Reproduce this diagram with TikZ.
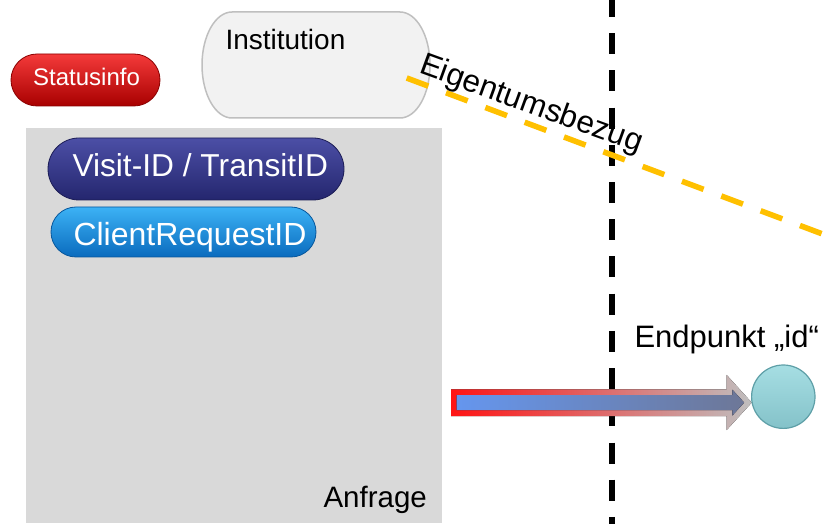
\documentclass[tikz,border=0pt]{standalone}
\usepackage{fontspec}
\setmainfont{Liberation Sans}
\usetikzlibrary{shapes.misc}
\definecolor{areagray}{HTML}{D9D9D9}
\definecolor{instfill}{HTML}{F2F2F2}
\definecolor{instline}{HTML}{BFBFBF}
\definecolor{redtop}{HTML}{F43A3A}
\definecolor{redmid}{HTML}{D60000}
\definecolor{redbot}{HTML}{A80000}
\definecolor{redline}{HTML}{8A0000}
\definecolor{navytop}{HTML}{4C4FA6}
\definecolor{navymid}{HTML}{2E3088}
\definecolor{navybot}{HTML}{24266E}
\definecolor{navyline}{HTML}{1B1C55}
\definecolor{bluetop}{HTML}{3CB2F5}
\definecolor{bluemid}{HTML}{0D86D8}
\definecolor{bluebot}{HTML}{0A6BBE}
\definecolor{blueline}{HTML}{08579C}
\definecolor{orangeline}{HTML}{FFC000}
\definecolor{arrowred}{HTML}{FF1414}
\definecolor{arrowgray}{HTML}{BFBFBF}
\definecolor{arrowblueL}{HTML}{6596EE}
\definecolor{arrowblueR}{HTML}{6D7797}
\definecolor{balltop}{HTML}{A6DEE3}
\definecolor{ballbot}{HTML}{84C2C9}
\definecolor{ballline}{HTML}{5E9FA7}
\tikzset{
  pill/.style={rectangle, inner sep=0pt, outer sep=0pt},
  lbl/.style={inner sep=0pt, outer sep=0pt, text=black},
  wlbl/.style={inner sep=0pt, outer sep=0pt, text=white},
}
\begin{document}
\begin{tikzpicture}[x=1pt,y=1pt]
\useasboundingbox (0,0) rectangle (823,523);
% grey request area
\fill[areagray] (26,0) rectangle (441.5,395);
% Institution pill
\coordinate (instTL) at (232,511);
\filldraw[fill=instfill, draw=instline, line width=1.5pt]
  (instTL) -- (400,511) arc[start angle=90,end angle=-90,x radius=30,y radius=53]
  -- (232,405) arc[start angle=270,end angle=90,x radius=30,y radius=53] -- cycle;
\node[lbl, anchor=base west, font=\fontsize{28}{33}\selectfont] (inst) at (225.5,473.7) {Institution};
% Statusinfo pill
\node[pill, minimum width=149pt, minimum height=52pt, rounded corners=26pt,
  top color=redtop, middle color=redmid, bottom color=redbot, draw=redline, line width=0.8pt]
  (statpill) at (85.5,443) {};
\node[wlbl, anchor=base, font=\fontsize{24}{28}\selectfont] (stat) at (86.5,437) {Statusinfo};
% Visit-ID pill
\node[pill, minimum width=296pt, minimum height=62pt, rounded corners=31pt,
  top color=navytop, middle color=navymid, bottom color=navybot, draw=navyline, line width=0.8pt]
  (visitpill) at (196,354) {};
\node[wlbl, anchor=base west, font=\fontsize{31.7}{38}\selectfont] (visit) at (72.5,346.3) {Visit-ID / TransitID};
% ClientRequestID pill
\node[pill, minimum width=265pt, minimum height=50pt, rounded corners=25pt,
  top color=bluetop, middle color=bluemid, bottom color=bluebot, draw=blueline, line width=0.8pt]
  (clientpill) at (183.5,291) {};
\node[wlbl, anchor=base west, font=\fontsize{32}{38}\selectfont] (client) at (73.5,277) {ClientRequestID};
% Anfrage
\node[lbl, anchor=base west, font=\fontsize{29.5}{34}\selectfont] (anfrage) at (323.5,15.3) {Anfrage};
% black dashed boundary
\coordinate (bTop) at (612.3,526.9);
\coordinate (bBot) at (612.3,-5);
\draw[black, line width=6pt, dash pattern=on 21pt off 16.2pt] (bTop) -- (bBot);
% arrow
\fill[left color=arrowred, right color=arrowgray]
  (451,133.7) -- (726.7,133.7) -- (726.7,148) -- (751.7,120.4) -- (726.7,93) -- (726.7,107) -- (451,107) -- cycle;
\fill[left color=arrowblueL, right color=arrowblueR]
  (456.7,128) -- (732.4,128) -- (732.4,133.3) -- (744.1,120.4) -- (732.4,107.5) -- (732.4,113) -- (456.7,113) -- cycle;
% endpoint ball
\node[circle, minimum size=63.4pt, inner sep=0pt, top color=balltop, bottom color=ballbot, draw=ballline, line width=1.2pt]
  (ball) at (783.3,126.3) {};
\node[lbl, anchor=base west, font=\fontsize{31}{36}\selectfont] (endp) at (634.5,175.7) {Endpunkt „id“};
% orange ownership line
\coordinate (oStart) at (406.7,445);
\coordinate (oEnd) at (850,278.7);
\begin{scope}
\clip (0,0) rectangle (823,523);
\draw[orangeline, line width=5.6pt, dash pattern=on 23.1pt off 18.9pt] (oStart) -- (oEnd);
\end{scope}
\node[lbl, anchor=base west, rotate=-20, font=\fontsize{31.5}{37}\selectfont] (eigen) at (418,450.5) {Eigentumsbezug};
\end{tikzpicture}
\end{document}
